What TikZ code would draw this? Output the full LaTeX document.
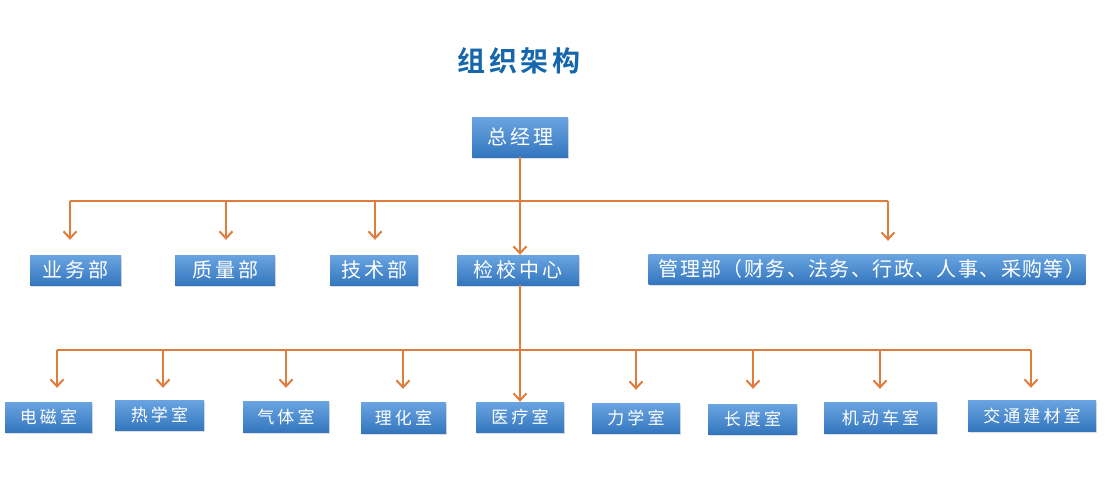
\documentclass[tikz,border=0pt]{standalone}
\usepackage{fontspec}
\setmainfont{Noto Sans CJK SC}[BoldFont={Noto Sans CJK SC Bold}]
\usetikzlibrary{arrows.meta,shadows,calc}
\definecolor{linec}{RGB}{224,125,60}
\definecolor{boxtop}{RGB}{106,165,225}
\definecolor{boxbot}{RGB}{52,118,190}
\definecolor{titlec}{RGB}{22,102,172}
\tikzset{
  box/.style={rectangle, inner sep=0pt, top color=boxtop, bottom color=boxbot, draw=none,
    text=white, drop shadow={shadow xshift=1pt, shadow yshift=-2pt, opacity=0.25}},
  bigtxt/.style={font=\fontsize{20}{24}\selectfont\addfontfeatures{LetterSpace=15}},
  widetxt/.style={font=\fontsize{20}{24}\selectfont\addfontfeatures{LetterSpace=7}},
  smalltxt/.style={font=\fontsize{17}{20}\selectfont\addfontfeatures{LetterSpace=18}},
  bus/.style={draw=linec, line width=2pt},
  arr/.style={draw=linec, line width=2pt, -{Straight Barb[length=7pt,width=13pt,line width=2pt]}},
}
\begin{document}
\begin{tikzpicture}[x=1pt,y=-1pt]
\useasboundingbox[fill=white] (0,0) rectangle (1113,488);
% title
\node[font=\fontsize{28}{32}\selectfont\bfseries\addfontfeatures{LetterSpace=14}, text=titlec] (title) at (519,61) {组织架构};
% level 0
\node[box,bigtxt,minimum width=96pt,minimum height=40pt] (ceo) at (520,137) {总经理};
% level 1
\node[box,bigtxt,minimum width=91pt,minimum height=30pt] (ywb) at (75.5,270) {业务部};
\node[box,bigtxt,minimum width=100pt,minimum height=30pt] (zlb) at (225,270) {质量部};
\node[box,bigtxt,minimum width=88pt,minimum height=30pt] (jsb) at (374,270) {技术部};
\node[box,bigtxt,minimum width=122pt,minimum height=30pt] (jc) at (518,270) {检校中心};
\node[box,widetxt,minimum width=436pt,minimum height=30pt] (glb) at (867,269) {\kern10pt管理部（财务、法务、行政、人事、采购等）};
% level 2
\node[box,smalltxt,minimum width=87pt,minimum height=30pt] (dc) at (48.5,417) {电磁室};
\node[box,smalltxt,minimum width=89pt,minimum height=30pt] (rx) at (159.5,415) {热学室};
\node[box,smalltxt,minimum width=86pt,minimum height=31pt] (qt) at (286,416.5) {气体室};
\node[box,smalltxt,minimum width=85pt,minimum height=31pt] (lh) at (403.5,417.5) {理化室};
\node[box,smalltxt,minimum width=88pt,minimum height=30pt] (yl) at (520,417) {医疗室};
\node[box,smalltxt,minimum width=88pt,minimum height=30pt] (lx) at (636,418) {力学室};
\node[box,smalltxt,minimum width=89pt,minimum height=30pt] (cd) at (752.5,419) {长度室};
\node[box,smalltxt,minimum width=113pt,minimum height=31pt] (jdc) at (880.5,417.5) {机动车室};
\node[box,smalltxt,minimum width=128pt,minimum height=31pt] (jt) at (1032,415.5) {交通建材室};
% bus coordinates level 1
\coordinate (b1L) at (70,201);
\coordinate (b1q) at (226,201);
\coordinate (b1j) at (375,201);
\coordinate (b1R) at (888,201);
\draw[bus] (b1L) -- (b1R);
\draw[arr] (ceo.south) -- (ceo.south |- jc.north);
\draw[arr,shorten >=15pt] (b1L) -- (b1L |- ywb.north);
\draw[arr,shorten >=15pt] (b1q) -- (b1q |- zlb.north);
\draw[arr,shorten >=15pt] (b1j) -- (b1j |- jsb.north);
\draw[arr,shorten >=13pt] (b1R) -- (b1R |- glb.north);
% bus level 2
\coordinate (b2a) at (57,350);
\coordinate (b2b) at (163,350);
\coordinate (b2c) at (286,350);
\coordinate (b2d) at (403,350);
\coordinate (b2f) at (636,350);
\coordinate (b2g) at (753,350);
\coordinate (b2h) at (880,350);
\coordinate (b2i) at (1031,350);
\draw[bus] (b2a) -- (b2i);
\draw[arr] (ceo.south |- jc.south) -- (ceo.south |- yl.north);
\draw[arr,shorten >=14pt] (b2a) -- (b2a |- dc.north);
\draw[arr,shorten >=12pt] (b2b) -- (b2b |- rx.north);
\draw[arr,shorten >=13pt] (b2c) -- (b2c |- qt.north);
\draw[arr,shorten >=13pt] (b2d) -- (b2d |- lh.north);
\draw[arr,shorten >=13pt] (b2f) -- (b2f |- lx.north);
\draw[arr,shorten >=15pt] (b2g) -- (b2g |- cd.north);
\draw[arr,shorten >=13pt] (b2h) -- (b2h |- jdc.north);
\draw[arr,shorten >=12pt] (b2i) -- (b2i |- jt.north);
\end{tikzpicture}
\end{document}
